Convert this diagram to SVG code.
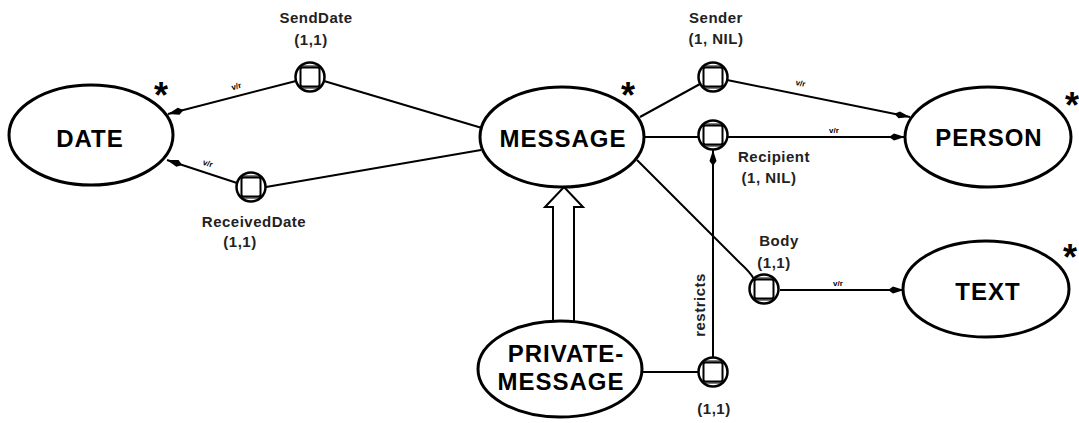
<svg xmlns="http://www.w3.org/2000/svg" width="1079" height="423" viewBox="0 0 1079 423">
<defs>
<marker id="ah" markerWidth="18" markerHeight="10" refX="16" refY="5" orient="auto" markerUnits="userSpaceOnUse">
<path d="M0,5 L5,1.5 L16,5 L5,8.5 z" fill="#000"/>
</marker>
<g id="rn">
<circle cx="0" cy="0" r="14.5" fill="#fff" stroke="#000" stroke-width="2.5"/>
<line x1="-9" y1="-11" x2="9" y2="-11" stroke="#000" stroke-width="1"/>
<line x1="-9" y1="11" x2="9" y2="11" stroke="#000" stroke-width="1"/>
<rect x="-9.5" y="-9.5" width="19" height="19" rx="2" fill="#fff" stroke="#000" stroke-width="2"/>
</g>
</defs>
<style>
.ent{fill:#fff;stroke:#000;stroke-width:3}
.en{font-family:"Liberation Sans",Arial,sans-serif;font-weight:bold;font-size:24px;letter-spacing:1px;text-anchor:middle;fill:#000}
.lb{font-family:"Liberation Sans",Arial,sans-serif;font-weight:bold;font-size:15px;letter-spacing:0.5px;text-anchor:middle;fill:#222}
.ast{font-family:"Liberation Sans",Arial,sans-serif;font-weight:bold;font-size:36px;text-anchor:middle;fill:#000}
.vr{font-family:"Liberation Sans",Arial,sans-serif;font-weight:bold;font-size:8px;text-anchor:middle;fill:#000}
.ln{fill:none;stroke:#000;stroke-width:2}
</style>
<rect width="1079" height="423" fill="#fff"/>

<g id="connectors">
<line class="ln" x1="296" y1="81" x2="168" y2="114" marker-end="url(#ah)"/>
<line class="ln" x1="324" y1="81" x2="482" y2="128"/>
<line class="ln" x1="237" y1="183" x2="167" y2="160" marker-end="url(#ah)"/>
<line class="ln" x1="266" y1="187" x2="481" y2="150"/>
<line class="ln" x1="640" y1="117" x2="700" y2="84"/>
<line class="ln" x1="727" y1="80" x2="910" y2="117" marker-end="url(#ah)"/>
<line class="ln" x1="645" y1="137" x2="698" y2="137"/>
<line class="ln" x1="728" y1="137" x2="905" y2="137" marker-end="url(#ah)"/>
<path class="ln" d="M637,160 L740,263 Q750,272 754,279"/>
<line class="ln" x1="780" y1="290" x2="904" y2="290" marker-end="url(#ah)"/>
<line class="ln" x1="643" y1="372" x2="698" y2="372"/>
<line class="ln" x1="713" y1="357" x2="713" y2="150" marker-end="url(#ah)"/>
<polygon points="553,322 553,207 545,207 564,187 583,207 574,207 574,322" fill="#fff" stroke="#000" stroke-width="2"/>
<text class="vr" transform="translate(237,89) rotate(-14)">v/r</text>
<text class="vr" transform="translate(207,166) rotate(18)">v/r</text>
<text class="vr" transform="translate(800,86) rotate(11)">v/r</text>
<text class="vr" x="834" y="133">v/r</text>
<text class="vr" x="838" y="286">v/r</text>
<text class="lb" transform="translate(705,305) rotate(-90)">restricts</text>
</g>

<g id="DATE">
<ellipse class="ent" cx="91" cy="135" rx="82" ry="50"/>
<text class="en" x="90" y="147">DATE</text>
<text class="ast" x="161" y="108">*</text>
</g>
<g id="MESSAGE">
<ellipse class="ent" cx="562" cy="137" rx="82" ry="50"/>
<text class="en" x="563" y="147">MESSAGE</text>
<text class="ast" x="628" y="108">*</text>
</g>
<g id="PERSON">
<ellipse class="ent" cx="988" cy="137" rx="83" ry="50"/>
<text class="en" x="989" y="146">PERSON</text>
<text class="ast" x="1072" y="118">*</text>
</g>
<g id="TEXT">
<ellipse class="ent" cx="986" cy="289" rx="83" ry="48"/>
<text class="en" x="988" y="300">TEXT</text>
<text class="ast" x="1070" y="270">*</text>
</g>
<g id="PRIVATE-MESSAGE">
<ellipse class="ent" cx="560" cy="369" rx="82" ry="48"/>
<text class="en" x="566" y="362">PRIVATE-</text>
<text class="en" x="561" y="390">MESSAGE</text>
</g>

<g id="SendDate">
<use href="#rn" x="310" y="77"/>
<text class="lb" x="316" y="23">SendDate</text>
<text class="lb" x="311" y="45">(1,1)</text>
</g>
<g id="ReceivedDate">
<use href="#rn" x="251" y="187"/>
<text class="lb" x="254" y="227">ReceivedDate</text>
<text class="lb" x="240" y="247">(1,1)</text>
</g>
<g id="Sender">
<use href="#rn" x="713" y="77"/>
<text class="lb" x="716" y="23">Sender</text>
<text class="lb" x="716" y="44">(1, NIL)</text>
</g>
<g id="Recipient">
<use href="#rn" x="713" y="135"/>
<text class="lb" x="774" y="162">Recipient</text>
<text class="lb" x="769" y="183">(1, NIL)</text>
</g>
<g id="Body">
<use href="#rn" x="764" y="289"/>
<text class="lb" x="779" y="246">Body</text>
<text class="lb" x="774" y="268">(1,1)</text>
</g>
<g id="restricts-node">
<use href="#rn" x="713" y="372"/>
<text class="lb" x="714" y="414">(1,1)</text>
</g>
</svg>
